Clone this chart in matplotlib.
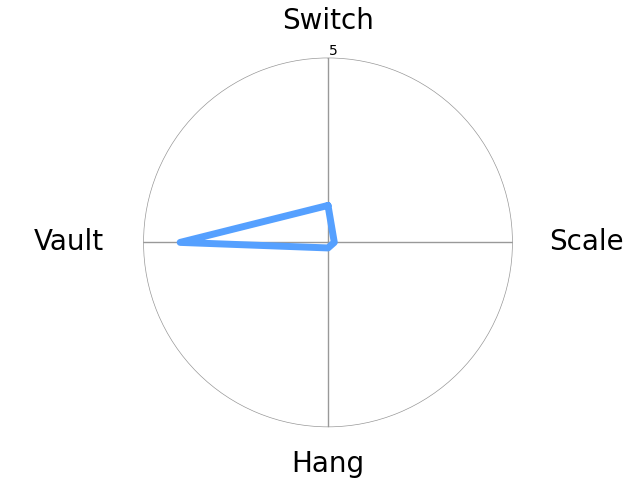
import numpy as np
import matplotlib.pyplot as plt

# categorieen en waarden
categories = ['Switch', 'Scale', 'Hang', 'Vault']
values = [1.0, 0.17, 0.15, 4.0]
r_max = 5

angles = np.linspace(0, 2 * np.pi, len(categories), endpoint=False)
ang = np.concatenate([angles, angles[:1]])
val = np.concatenate([values, values[:1]])

fig = plt.figure(figsize=(6.4, 4.8), dpi=100)
ax = fig.add_subplot(1, 1, 1, projection='polar')
ax.set_theta_zero_location('N')
ax.set_theta_direction(-1)

ax.plot(ang, val, color='#55a0ff', linewidth=5, solid_joinstyle='round',
        solid_capstyle='round')

ax.set_ylim(0, r_max)
ax.set_yticks([r_max])
ax.set_yticklabels([str(r_max)], fontsize=10)
ax.set_rlabel_position(0.2)
ax.set_xticks(angles)
ax.set_xticklabels([])
ax.grid(color='#999999', linewidth=1.0)
ax.spines['polar'].set_visible(False)

# labels zelf plaatsen, verder naar buiten
for a, name in zip(angles, categories):
    r_lab = r_max * 1.2 if np.isclose(np.sin(a), 0) else r_max * 1.4
    ax.text(a, r_lab, name, fontsize=20, ha='center', va='center',
            clip_on=False)

fig.savefig('out.png', dpi=100)
